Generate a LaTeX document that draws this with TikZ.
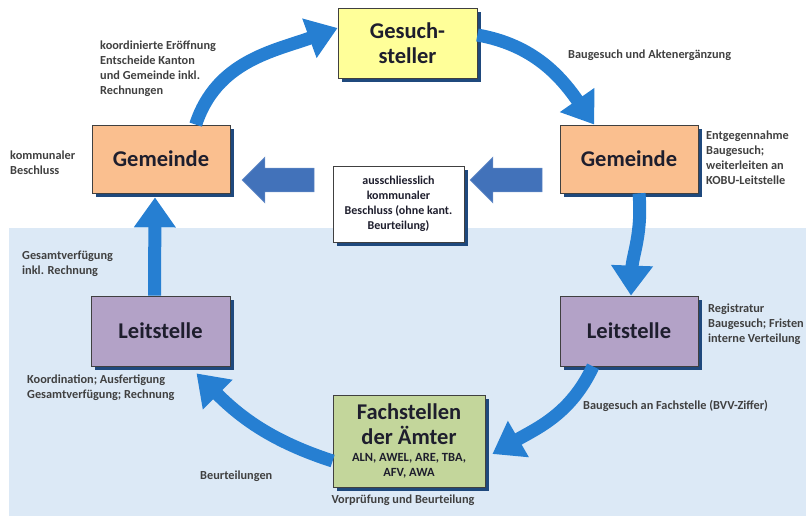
\documentclass[tikz,border=0pt]{standalone}
\usepackage{fontspec}
\setmainfont{Carlito}
\usetikzlibrary{arrows.meta,shadows,shapes.arrows,calc}
\definecolor{bgblue}{RGB}{220,233,246}
\definecolor{flowblue}{RGB}{38,127,210}
\definecolor{fatblue}{RGB}{66,114,186}
\definecolor{shadowblue}{RGB}{31,73,125}
\definecolor{yellowbox}{RGB}{255,255,153}
\definecolor{orangebox}{RGB}{250,191,143}
\definecolor{purplebox}{RGB}{179,162,199}
\definecolor{greenbox}{RGB}{195,214,155}
\definecolor{boxtext}{RGB}{30,30,45}
\definecolor{lbltext}{RGB}{64,64,64}
\newcommand{\amtfont}{\fontsize{12.5}{14}\selectfont}

\begin{document}
\begin{tikzpicture}[x=1pt,y=-1pt,
  box/.style={draw=black!75,line width=.8pt,align=center,text=boxtext,
    font=\fontsize{22.5}{25}\selectfont\bfseries,
    drop shadow={shadow xshift=4pt,shadow yshift=-4pt,fill=shadowblue,opacity=1}},
  lbl/.style={text=lbltext,align=left,inner sep=0pt,
    font=\fontsize{12.3}{14.8}\selectfont\bfseries},
  flow/.style={draw=flowblue,line width=13pt,
    -{Triangle[width=40pt,length=30pt]}},
  fat/.style={single arrow,fill=fatblue,draw=fatblue!80!white,line width=.6pt,
    shape border rotate=180,minimum height=72pt,
    single arrow head extend=11pt,inner xsep=0pt,inner ysep=11.5pt}]
\useasboundingbox (0,0) rectangle (806,516);
% background
\fill[bgblue] (9,228) rectangle (806,516);
% boxes
\node[box,fill=yellowbox,minimum width=139pt,minimum height=70pt] (gs) at (407.5,43) {Gesuch-\\steller};
\node[box,fill=orangebox,minimum width=138pt,minimum height=68pt] (gl) at (161,159) {Gemeinde};
\node[box,fill=orangebox,minimum width=138pt,minimum height=68pt] (gr) at (629,159) {Gemeinde};
\node[box,fill=white,minimum width=131pt,minimum height=76pt,
      font=\fontsize{12}{15}\selectfont\bfseries] (mid) at (398.5,204)
      {ausschliesslich\\kommunaler\\Beschluss (ohne kant.\\Beurteilung)};
\node[box,fill=purplebox,minimum width=139pt,minimum height=70pt] (ll) at (160.5,331) {Leitstelle};
\node[box,fill=purplebox,minimum width=138pt,minimum height=70pt] (lr) at (629,331) {Leitstelle};
\node[box,fill=greenbox,minimum width=152pt,minimum height=92pt] (fa) at (409,441)
      {Fachstellen\\der Ämter\\[-8pt]
       \amtfont ALN, AWEL, ARE, TBA,\\[-10pt]\amtfont AFV, AWA};
% block arrows
\node[fat] (ba1) at (284,180) {};
\node[fat] (ba2) at (512,180) {};
% cycle
\draw[flow] ($(gl.north)!.5!(gl.north east)$) to[out=72,in=200] ([yshift=15pt]gs.west);
\draw[flow] ([yshift=8pt]gs.east) to[out=-10,in=125] ($(gr.north west)!.5!(gr.north)$);
\draw[flow] ([xshift=10pt]gr.south) to[out=-85,in=88] ([xshift=2pt]lr.north);
\draw[flow] ([xshift=-36pt]lr.south) to[out=-115,in=30] ([xshift=7pt,yshift=-13pt]fa.east);
\draw[flow] ([yshift=-20pt]fa.west) to[out=162,in=-45] ([xshift=36pt,yshift=-7pt]ll.south);
\draw[flow] ([xshift=-6pt]ll.north) -- ([xshift=-6pt,yshift=-4pt]gl.south);
% labels
\node[lbl,anchor=north west] (l1) at (100,41) {koordinierte Eröffnung\\Entscheide Kanton\\und Gemeinde inkl.\\Rechnungen};
\node[lbl,anchor=north west] (l2) at (10,151) {kommunaler\\Beschluss};
\node[lbl,anchor=west] (l3) at (568,55) {Baugesuch und Aktenergänzung};
\node[lbl,anchor=north west] (l4) at (706,131) {Entgegennahme\\Baugesuch;\\weiterleiten an\\KOBU-Leitstelle};
\node[lbl,anchor=north west] (l5) at (22,251) {Gesamtverfügung\\inkl. Rechnung};
\node[lbl,anchor=north west] (l6) at (27,375) {Koordination; Ausfertigung\\Gesamtverfügung; Rechnung};
\node[lbl,anchor=west] (l7) at (200,476) {Beurteilungen};
\node[lbl] (l8) at (403,500) {Vorprüfung und Beurteilung};
\node[lbl,anchor=north west] (l9) at (708,304) {Registratur\\Baugesuch; Fristen\\interne Verteilung};
\node[lbl,anchor=west] (l10) at (583,406) {Baugesuch an Fachstelle (BVV-Ziffer)};
\end{tikzpicture}
\end{document}
